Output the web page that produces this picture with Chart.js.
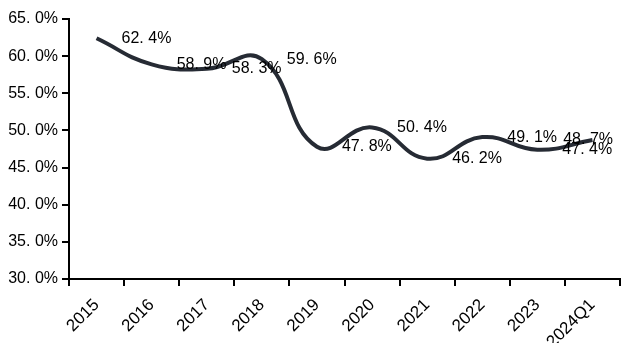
<!DOCTYPE html>
<html>
<head>
<meta charset="utf-8">
<script src="https://cdn.jsdelivr.net/npm/chart.js@4.4.1/dist/chart.umd.min.js"></script>
<style>
  html, body { margin: 0; padding: 0; background: #fff; }
  #wrap { width: 621px; height: 343px; }
</style>
</head>
<body>
<div id="wrap"><canvas id="chart" width="621" height="343"></canvas></div>
<script>
const years = ['2015', '2016', '2017', '2018', '2019', '2020', '2021', '2022', '2023', '2024Q1'];
const shares = [62.4, 58.9, 58.3, 59.6, 47.8, 50.4, 46.2, 49.1, 47.4, 48.7];
const yMin = 30;
const yMax = 65;
const yStep = 5;

const FAMILY = '"Liberation Sans", Arial, sans-serif';
const FONT = { family: FAMILY, size: 16 };
const X_FONT = { family: FAMILY, size: 17 };
const pct = v => v.toFixed(1).replace('.', '. ') + '%';

// value labels sit to the right of each point, pulled back inside the canvas at the edge
const valueLabels = {
  id: 'valueLabels',
  afterDatasetsDraw(chart) {
    const ctx = chart.ctx;
    const meta = chart.getDatasetMeta(0);
    ctx.save();
    ctx.font = `${FONT.size}px ${FONT.family}`;
    ctx.fillStyle = '#000';
    ctx.textAlign = 'left';
    ctx.textBaseline = 'middle';
    meta.data.forEach((pt, i) => {
      const text = pct(shares[i]);
      const w = ctx.measureText(text).width;
      let x = pt.x + 25;
      if (x + w > chart.width - 8) x = chart.width - 8 - w;
      ctx.fillText(text, x, pt.y);
    });
    ctx.restore();
  }
};

new Chart(document.getElementById('chart'), {
  type: 'line',
  data: {
    labels: years,
    datasets: [{
      data: shares,
      borderColor: '#262b34',
      borderWidth: 4,
      tension: 0.45,
      pointRadius: 0,
      fill: false,
    }],
  },
  options: {
    responsive: false,
    animation: false,
    layout: { padding: { top: 19, right: 1, left: 0, bottom: 0 } },
    plugins: { legend: { display: false }, tooltip: { enabled: false } },
    scales: {
      x: {
        offset: true,
        border: { color: '#000', width: 2 },
        grid: { offset: true, drawOnChartArea: false, color: '#000', lineWidth: 2, tickLength: 7 },
        ticks: { color: '#000', font: X_FONT, minRotation: 45, maxRotation: 45, padding: 9, autoSkip: false },
        afterFit: s => { s.height = 64; },
      },
      y: {
        min: yMin,
        max: yMax,
        border: { color: '#000', width: 2 },
        grid: { drawOnChartArea: false, color: '#000', lineWidth: 2, tickLength: 7 },
        ticks: { color: '#000', font: FONT, stepSize: yStep, padding: 4, callback: v => pct(v) },
        afterFit: s => { s.width = 69; },
      },
    },
  },
  plugins: [valueLabels],
});
</script>
</body>
</html>
